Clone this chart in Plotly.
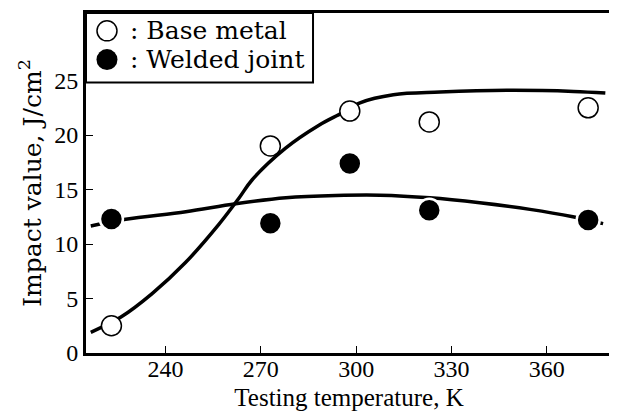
import plotly.graph_objects as go

# Measured points
temps = [223, 273, 298, 323, 373]
base_metal = [2.5, 19.0, 22.2, 21.2, 22.5]
welded_joint = [12.3, 11.9, 17.4, 13.1, 12.2]

# Trend curves
base_curve_x = [216.5, 226, 235.8, 246.3, 256.8, 263.1, 267.3, 277.8, 288.3, 295.7,
                301.2, 311.7, 326.4, 347.4, 368.4, 378.4]
base_curve_y = [1.9, 3.3, 5.45, 8.3, 11.8, 14.2, 15.9, 18.8, 20.9, 22.05,
                22.96, 23.7, 23.94, 24.1, 24.0, 23.85]
weld_curve_x = [216.5, 227.5, 246.4, 262.1, 277.9, 293.6, 307.5, 323.2, 338.9, 354.7, 368.2, 377.7]
weld_curve_y = [11.66, 12.27, 12.96, 13.69, 14.24, 14.45, 14.48, 14.24, 13.78, 13.18, 12.5, 11.87]

x_ticks = [240, 270, 300, 330, 360]
y_ticks = [0, 5, 10, 15, 20, 25]
legend_labels = [": Base metal", ": Welded joint"]

fig = go.Figure()
fig.add_trace(go.Scatter(x=base_curve_x, y=base_curve_y, mode="lines",
                         line=dict(color="black", width=3.5, shape="spline"),
                         showlegend=False, hoverinfo="skip"))
fig.add_trace(go.Scatter(x=weld_curve_x, y=weld_curve_y, mode="lines",
                         line=dict(color="black", width=3.5, shape="spline"),
                         showlegend=False, hoverinfo="skip"))
fig.add_trace(go.Scatter(x=temps, y=base_metal, mode="markers", name=legend_labels[0],
                         showlegend=False,
                         marker=dict(symbol="circle", size=20, color="white",
                                     line=dict(color="black", width=1.5))))
fig.add_trace(go.Scatter(x=temps, y=welded_joint, mode="markers", name=legend_labels[1],
                         showlegend=False,
                         marker=dict(symbol="circle", size=23, color="black",
                                     line=dict(color="white", width=2.5))))

# Hand-made legend box (placed in paper coordinates of the plot area)
fig.add_shape(type="rect", xref="paper", yref="paper", x0=0, x1=0.4316, y0=0.7959, y1=1,
              line=dict(color="black", width=2), fillcolor="white", layer="above")
legend_y = [0.9475, 0.863]
fig.add_shape(type="circle", xref="paper", yref="paper", xsizemode="pixel", ysizemode="pixel",
              xanchor=0.0399, yanchor=legend_y[0], x0=-10, x1=10, y0=-10, y1=10,
              line=dict(color="black", width=1.5), fillcolor="white", layer="above")
fig.add_shape(type="circle", xref="paper", yref="paper", xsizemode="pixel", ysizemode="pixel",
              xanchor=0.0399, yanchor=legend_y[1], x0=-10.5, x1=10.5, y0=-10.5, y1=10.5,
              line=dict(color="black", width=0), fillcolor="black", layer="above")
for label, yy in zip(legend_labels, legend_y):
    fig.add_annotation(x=0.0800, y=yy, xref="paper", yref="paper", text=label,
                       showarrow=False, xanchor="left", yanchor="middle",
                       font=dict(family="DejaVu Serif", size=25, color="black"))

fig.update_layout(
    width=609, height=406,
    margin=dict(l=78, r=5, t=2, b=61),
    paper_bgcolor="white", plot_bgcolor="white",
    font=dict(family="Liberation Serif", size=24, color="black"),
    showlegend=False,
    xaxis=dict(range=[215, 380.5], tickvals=x_ticks, ticks="inside", ticklen=7,
               tickwidth=1.2, tickcolor="black", showline=True, linecolor="black",
               linewidth=3, mirror=True, showgrid=False, zeroline=False,
               ticklabelstandoff=-8,
               title=dict(text="Testing temperature, K", font=dict(size=25), standoff=8),
               tickfont=dict(size=24)),
    yaxis=dict(range=[0, 31.2], tickvals=y_ticks, ticks="inside", ticklen=7,
               tickwidth=1.2, tickcolor="black", showline=True, linecolor="black",
               linewidth=3, mirror=True, showgrid=False, zeroline=False,
               title=dict(text="Impact value, J/cm<sup>2</sup>",
                          font=dict(family="DejaVu Serif", size=25), standoff=6),
               tickfont=dict(size=24)),
)

fig.write_html("out.html")
